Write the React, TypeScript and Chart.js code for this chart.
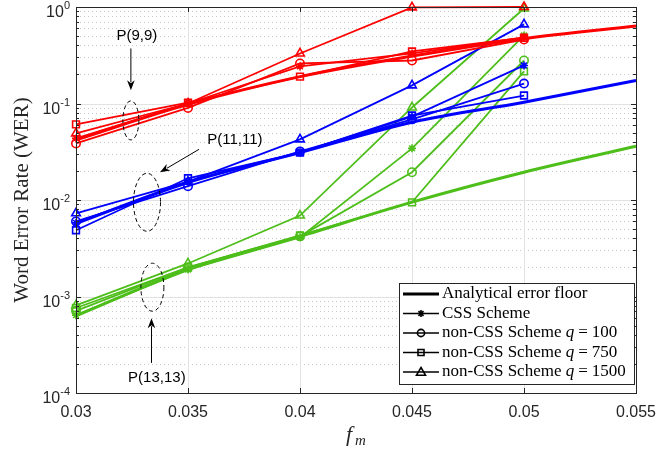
import React, { useEffect, useRef } from 'react';
import { Chart, registerables } from 'chart.js';

Chart.register(...registerables);

// ---------- data ----------
const fm = [0.03, 0.035, 0.04, 0.045, 0.05];
const fmFloor = [0.03, 0.035, 0.04, 0.045, 0.05, 0.055];

// P(9,9) – red
const floor9 = [0.042, 0.098, 0.19, 0.31, 0.47, 0.635];
const css9 = [0.0435, 0.1, 0.242, 0.33, 0.483];
const q100_9 = [0.0386, 0.09, 0.26, 0.279, 0.46];
const q750_9 = [0.0608, 0.102, 0.19, 0.346, 0.48];
const q1500_9 = [0.049, 0.1, 0.33, 0.99, 1.0];

// P(11,11) – blue
const floor11 = [0.0057, 0.0152, 0.031, 0.064, 0.103, 0.173];
const css11 = [0.0058, 0.0155, 0.031, 0.073, 0.248];
const q100_11 = [0.006, 0.0139, 0.0319, 0.0685, 0.161];
const q750_11 = [0.00486, 0.0168, 0.031, 0.075, 0.121];
const q1500_11 = [0.00728, 0.0155, 0.0425, 0.154, 0.66];

// P(13,13) – green
const floor13 = [0.00063, 0.0019, 0.0042, 0.0095, 0.0194, 0.036];
const css13 = [0.00064, 0.0019, 0.0041, 0.0343, 0.507];
const q100_13 = [0.00071, 0.002, 0.0042, 0.0194, 0.279];
const q750_13 = [0.00076, 0.002, 0.0043, 0.00946, 0.215];
const q1500_13 = [0.00081, 0.0022, 0.0069, 0.091, 0.965];

const xTicks = [0.03, 0.035, 0.04, 0.045, 0.05, 0.055];
const xTickLabels = ['0.03', '0.035', '0.04', '0.045', '0.05', '0.055'];
const yExponents = [0, -1, -2, -3, -4];

const legendLabels = ['Analytical error floor', 'CSS Scheme', 'non-CSS Scheme', 'non-CSS Scheme', 'non-CSS Scheme'];
const legendQ = [null, null, '100', '750', '1500'];
const legendMarkers = ['none', 'star', 'circle', 'rect', 'triangle'];

// annotation anchors, in data units
const annotations = [
  { text: 'P(9,9)', tx: 0.03272, ty: 0.507, ax1: 0.03245, ay1: 0.372, ax2: 0.03245, ay2: 0.137, ex: 0.03245, ey: 0.0668, rx: 8, ry: 19.5 },
  { text: 'P(11,11)', tx: 0.03709, ty: 0.0415, ax1: 0.03549, ay1: 0.0335, ax2: 0.03375, ay2: 0.01935, ex: 0.03317, ey: 0.00947, rx: 13.5, ry: 29 },
  { text: 'P(13,13)', tx: 0.03361, ty: 0.000145, ax1: 0.03337, ay1: 0.000205, ax2: 0.03337, ay2: 0.000596, ex: 0.03341, ey: 0.001248, rx: 11.5, ry: 24 },
];

const RED = '#ff0000';
const BLUE = '#0000ff';
const GREEN = '#4dbe1a';

const groups = [
  { color: RED, floor: floor9, css: css9, q100: q100_9, q750: q750_9, q1500: q1500_9 },
  { color: BLUE, floor: floor11, css: css11, q100: q100_11, q750: q750_11, q1500: q1500_11 },
  { color: GREEN, floor: floor13, css: css13, q100: q100_13, q750: q750_13, q1500: q1500_13 },
];

const pts = (xs: number[], ys: number[]) => ys.map((v, i) => ({ x: xs[i], y: v }));

function buildDatasets() {
  const ds: any[] = [];
  for (const g of groups) {
    const base = {
      borderColor: g.color,
      pointBorderColor: g.color,
      pointBackgroundColor: 'rgba(0,0,0,0)',
      borderWidth: 1.8,
      pointBorderWidth: 1.6,
      clip: false,
      tension: 0,
    };
    ds.push({ ...base, data: pts(fm, g.css), pointStyle: 'star', pointRadius: 4 });
    ds.push({ ...base, data: pts(fm, g.q100), pointStyle: 'circle', pointRadius: 4.2 });
    ds.push({ ...base, data: pts(fm, g.q750), pointStyle: 'rect', pointRadius: 4.8 });
    ds.push({ ...base, data: pts(fm, g.q1500), pointStyle: 'triangle', pointRadius: 5 });
    ds.push({ ...base, data: pts(fmFloor, g.floor), pointRadius: 0, borderWidth: 3, cubicInterpolationMode: 'monotone' });
  }
  return ds;
}

const AXIS = '#262626';

function drawMarker(ctx: CanvasRenderingContext2D, kind: string, x: number, y: number) {
  ctx.beginPath();
  if (kind === 'circle') {
    ctx.arc(x, y, 3.6, 0, Math.PI * 2);
    ctx.stroke();
  } else if (kind === 'rect') {
    ctx.rect(x - 3, y - 3, 6, 6);
    ctx.stroke();
  } else if (kind === 'triangle') {
    ctx.moveTo(x, y - 4.5);
    ctx.lineTo(x + 4.5, y + 3.2);
    ctx.lineTo(x - 4.5, y + 3.2);
    ctx.closePath();
    ctx.stroke();
  } else if (kind === 'star') {
    for (let k = 0; k < 4; k++) {
      const a = (k * Math.PI) / 4;
      ctx.moveTo(x - 3.5 * Math.cos(a), y - 3.5 * Math.sin(a));
      ctx.lineTo(x + 3.5 * Math.cos(a), y + 3.5 * Math.sin(a));
    }
    ctx.stroke();
  }
}

const matlabPlugin = {
  id: 'matlabAxes',
  beforeDatasetsDraw(chart: any) {
    const { ctx, chartArea: a, scales } = chart;
    const xs = scales.x, ys = scales.y;
    ctx.save();
    // minor y grid (dotted)
    ctx.strokeStyle = '#c8c8c8';
    ctx.lineWidth = 1;
    ctx.setLineDash([1, 3]);
    for (const e of yExponents.slice(1)) {
      for (let k = 2; k <= 9; k++) {
        const py = Math.round(ys.getPixelForValue(k * Math.pow(10, e))) + 0.5;
        ctx.beginPath();
        ctx.moveTo(a.left, py);
        ctx.lineTo(a.right, py);
        ctx.stroke();
      }
    }
    ctx.setLineDash([]);
    ctx.strokeStyle = '#e2e2e2';
    for (const e of yExponents) {
      const py = Math.round(ys.getPixelForValue(Math.pow(10, e))) + 0.5;
      ctx.beginPath();
      ctx.moveTo(a.left, py);
      ctx.lineTo(a.right, py);
      ctx.stroke();
    }
    for (const t of xTicks) {
      const px = Math.round(xs.getPixelForValue(t)) + 0.5;
      ctx.beginPath();
      ctx.moveTo(px, a.top);
      ctx.lineTo(px, a.bottom);
      ctx.stroke();
    }
    ctx.restore();
  },
  afterDatasetsDraw(chart: any) {
    const { ctx, chartArea: a, scales } = chart;
    const xs = scales.x, ys = scales.y;
    ctx.save();
    // box
    ctx.strokeStyle = AXIS;
    ctx.lineWidth = 1;
    ctx.strokeRect(Math.round(a.left) + 0.5, Math.round(a.top) + 0.5, Math.round(a.right - a.left), Math.round(a.bottom - a.top));
    // y ticks
    for (const e of yExponents) {
      for (let k = 1; k <= 9; k++) {
        if (e === 0 && k > 1) continue;
        const py = Math.round(ys.getPixelForValue(k * Math.pow(10, e))) + 0.5;
        const len = k === 1 ? 5 : 3;
        ctx.beginPath();
        ctx.moveTo(a.left, py); ctx.lineTo(a.left + len, py);
        ctx.moveTo(a.right, py); ctx.lineTo(a.right - len, py);
        ctx.stroke();
      }
    }
    // x ticks
    for (const t of xTicks) {
      const px = Math.round(xs.getPixelForValue(t)) + 0.5;
      ctx.beginPath();
      ctx.moveTo(px, a.bottom); ctx.lineTo(px, a.bottom - 5);
      ctx.moveTo(px, a.top); ctx.lineTo(px, a.top + 5);
      ctx.stroke();
    }
    // x tick labels
    ctx.fillStyle = AXIS;
    ctx.font = '16px "Liberation Sans", Arial, sans-serif';
    ctx.textAlign = 'center';
    ctx.textBaseline = 'alphabetic';
    xTicks.forEach((t, i) => {
      ctx.fillText(xTickLabels[i], xs.getPixelForValue(t), a.bottom + 24);
    });
    // y tick labels 10^e
    for (const e of yExponents) {
      const py = ys.getPixelForValue(Math.pow(10, e));
      const exp = e === 0 ? '0' : '-' + Math.abs(e);
      ctx.font = '11px "Liberation Sans", Arial, sans-serif';
      const ew = ctx.measureText(exp).width;
      const right = a.left - 6;
      ctx.textAlign = 'left';
      ctx.fillText(exp, right - ew, py + 2);
      ctx.font = '16px "Liberation Sans", Arial, sans-serif';
      ctx.textAlign = 'right';
      ctx.fillText('10', right - ew, py + 10);
    }
    // y title
    ctx.save();
    ctx.translate(22, (a.top + a.bottom) / 2);
    ctx.rotate(-Math.PI / 2);
    ctx.font = '21px "Liberation Serif", "DejaVu Serif", serif';
    ctx.textAlign = 'center';
    ctx.textBaseline = 'middle';
    ctx.fillText('Word Error Rate (WER)', 0, 0);
    ctx.restore();
    // x title f_m
    ctx.font = 'italic 22px "Liberation Serif", serif';
    ctx.textAlign = 'left';
    const cx = (a.left + a.right) / 2;
    ctx.fillText('f', cx - 10, a.bottom + 48);
    ctx.font = 'italic 15px "Liberation Serif", serif';
    ctx.fillText('m', cx - 1, a.bottom + 52);

    // annotations
    ctx.strokeStyle = '#000';
    ctx.fillStyle = '#000';
    for (const an of annotations) {
      // ellipse
      ctx.save();
      ctx.setLineDash([4, 3]);
      ctx.lineWidth = 1;
      ctx.beginPath();
      ctx.ellipse(xs.getPixelForValue(an.ex), ys.getPixelForValue(an.ey), an.rx, an.ry, 0, 0, Math.PI * 2);
      ctx.stroke();
      ctx.restore();
      // arrow
      const x1 = xs.getPixelForValue(an.ax1), y1 = ys.getPixelForValue(an.ay1);
      const x2 = xs.getPixelForValue(an.ax2), y2 = ys.getPixelForValue(an.ay2);
      const ang = Math.atan2(y2 - y1, x2 - x1);
      const hl = 10, hw = 3.8;
      ctx.lineWidth = 1;
      ctx.beginPath();
      ctx.moveTo(x1, y1);
      ctx.lineTo(x2 - Math.cos(ang) * hl * 0.8, y2 - Math.sin(ang) * hl * 0.8);
      ctx.stroke();
      ctx.beginPath();
      ctx.moveTo(x2, y2);
      ctx.lineTo(x2 - Math.cos(ang) * hl - Math.sin(ang) * hw, y2 - Math.sin(ang) * hl + Math.cos(ang) * hw);
      ctx.lineTo(x2 - Math.cos(ang) * hl * 0.7, y2 - Math.sin(ang) * hl * 0.7);
      ctx.lineTo(x2 - Math.cos(ang) * hl + Math.sin(ang) * hw, y2 - Math.sin(ang) * hl - Math.cos(ang) * hw);
      ctx.closePath();
      ctx.fill();
      // label
      ctx.font = '15px "Liberation Sans", Arial, sans-serif';
      ctx.textAlign = 'center';
      ctx.textBaseline = 'middle';
      ctx.fillText(an.text, xs.getPixelForValue(an.tx), ys.getPixelForValue(an.ty));
    }

    // legend
    const lx = a.left + 323, ly = a.top + 276, lw = 235, lh = 101;
    ctx.fillStyle = '#fff';
    ctx.fillRect(lx, ly, lw, lh);
    ctx.strokeStyle = AXIS;
    ctx.lineWidth = 1;
    ctx.strokeRect(lx + 0.5, ly + 0.5, lw, lh);
    ctx.textBaseline = 'middle';
    ctx.textAlign = 'left';
    const F = 17;
    legendLabels.forEach((lab, i) => {
      const ry = ly + 11 + i * 19.5;
      ctx.strokeStyle = '#000';
      ctx.lineWidth = i === 0 ? 2.8 : 1.6;
      ctx.beginPath();
      ctx.moveTo(lx + 4, ry);
      ctx.lineTo(lx + 40, ry);
      ctx.stroke();
      ctx.lineWidth = 1.6;
      drawMarker(ctx, legendMarkers[i], lx + 22, ry);
      ctx.fillStyle = '#000';
      let tx = lx + 43;
      ctx.font = `${F}px "Liberation Serif", serif`;
      ctx.fillText(lab, tx, ry);
      const q = legendQ[i];
      if (q) {
        tx += ctx.measureText(lab + ' ').width;
        ctx.font = `italic ${F}px "Liberation Serif", serif`;
        ctx.fillText('q', tx, ry);
        tx += ctx.measureText('q').width + 4;
        ctx.font = `${F}px "Liberation Serif", serif`;
        ctx.fillText('=', tx, ry);
        tx += ctx.measureText('=').width + 4;
        ctx.fillText(q, tx, ry);
      }
    });
    ctx.restore();
  },
};

export default function App() {
  const ref = useRef<HTMLCanvasElement>(null);
  useEffect(() => {
    document.body.style.margin = '0';
    const canvas = ref.current!;
    const chart = new Chart(canvas, {
      type: 'line',
      data: { datasets: buildDatasets() },
      options: {
        responsive: false,
        animation: false,
        events: [],
        layout: { padding: { left: 76, top: 7, right: 21, bottom: 61 } },
        plugins: { legend: { display: false }, tooltip: { enabled: false } },
        scales: {
          x: { type: 'linear', min: 0.03, max: 0.055, display: false },
          y: { type: 'logarithmic', min: 1e-4, max: 1, display: false },
        },
      },
      plugins: [matlabPlugin],
    } as any);
    return () => chart.destroy();
  }, []);
  return <canvas ref={ref} width={657} height={454} style={{ display: 'block' }} />;
}
